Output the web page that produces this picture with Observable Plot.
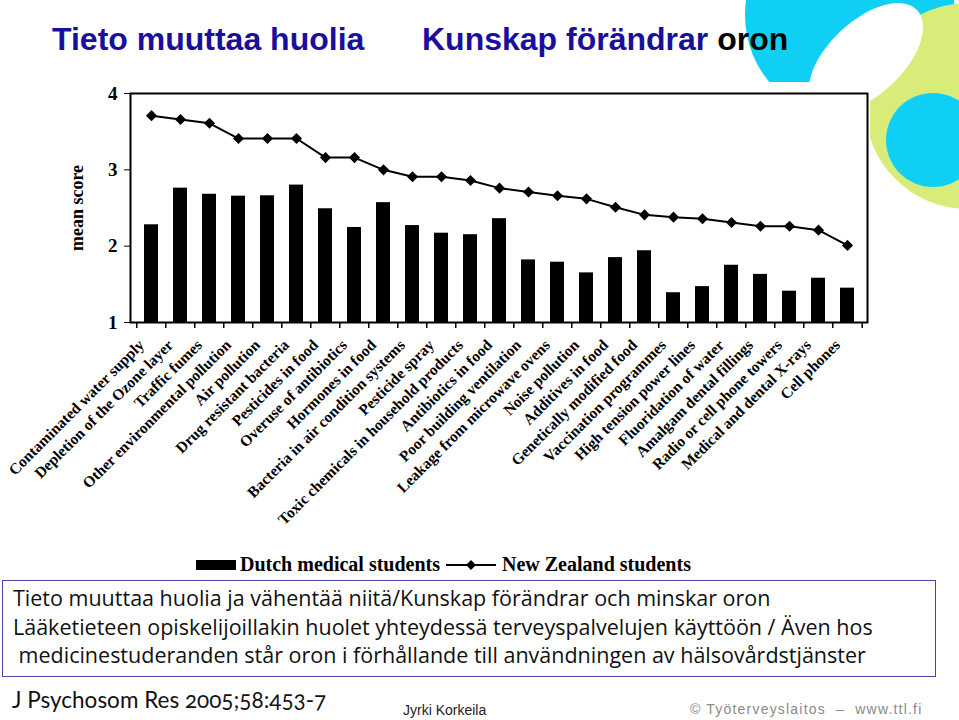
<!DOCTYPE html>
<html>
<head>
<meta charset="utf-8">
<script src="https://cdn.jsdelivr.net/npm/d3@7"></script>
<script src="https://cdn.jsdelivr.net/npm/@observablehq/plot@0.6"></script>
<style>
  html, body { margin: 0; padding: 0; background: #fff; }
  #page { position: relative; width: 959px; height: 720px; overflow: hidden; background: #fff; }
  #decor { position: absolute; left: 0; top: 0; }
  .title { position: absolute; top: 21px; font-family: "Liberation Sans", Arial, sans-serif; font-weight: bold; font-size: 32px; color: #1a0f9c; white-space: nowrap; }
  #chart { position: absolute; left: 0; top: 82px; }
  #chart svg { overflow: visible; }
  #legend { position: absolute; left: 196px; top: 553px; font-family: "Liberation Serif", serif; font-weight: bold; font-size: 20px; white-space: nowrap; display: flex; align-items: center; }
  #caption { position: absolute; left: 2px; top: 580px; width: 934px; height: 97px; border: 1.5px solid #4a46a8; box-sizing: border-box; font-family: "Open Sans", Lato, sans-serif; font-size: 21.5px; line-height: 28.5px; padding: 3px 0 0 10px; color: #111; white-space: nowrap; }
  #ref { position: absolute; left: 12px; top: 686px; font-family: Lato, sans-serif; font-size: 22.5px; color: #111; font-variant-numeric: oldstyle-nums; white-space: nowrap; }
  #author { position: absolute; left: 403px; top: 702px; font-family: "Liberation Sans", Arial, sans-serif; font-size: 14px; color: #222; }
  #copy { position: absolute; left: 690px; top: 701px; font-family: "Liberation Sans", Arial, sans-serif; font-size: 14px; color: #8a8a8a; letter-spacing: 1.2px; white-space: pre; }
</style>
</head>
<body>
<div id="page">
  <svg id="decor" width="959" height="720">
    <circle cx="850" cy="15" r="105" fill="#0fcff4"></circle>
    <circle cx="968" cy="106" r="103" fill="#d8ec7a"></circle>
    <ellipse cx="866" cy="58" rx="70" ry="37" transform="rotate(-43 866 58)" fill="#ffffff"></ellipse>
    <circle cx="933" cy="140" r="47" fill="#0fcff4"></circle>
  </svg>
  <div class="title" style="left:52px">Tieto muuttaa huolia</div>
  <div class="title" style="left:422px">Kunskap förändrar <span style="color:#000">oron</span></div>
  <div id="chart"></div>
  <div id="legend"></div>
  <div id="caption">
    <div>Tieto muuttaa huolia ja vähentää niitä/Kunskap förändrar och minskar oron</div>
    <div>Lääketieteen opiskelijoillakin huolet yhteydessä terveyspalvelujen käyttöön / Även hos</div>
    <div>&nbsp;medicinestuderanden står oron i förhållande till användningen av hälsovårdstjänster</div>
  </div>
  <div id="ref">J Psychosom Res 2005;58:453-7</div>
  <div id="author">Jyrki Korkeila</div>
  <div id="copy">© Työterveyslaitos  –  www.ttl.fi</div>
</div>
<script>
const categories = [
  "Contaminated water supply",
  "Depletion of the Ozone layer",
  "Traffic fumes",
  "Other environmental pollution",
  "Air pollution",
  "Drug resistant bacteria",
  "Pesticides in food",
  "Overuse of antibiotics",
  "Hormones in food",
  "Bacteria in air condition systems",
  "Pesticide spray",
  "Toxic chemicals in household products",
  "Antibiotics in food",
  "Poor building ventilation",
  "Leakage from microwave ovens",
  "Noise pollution",
  "Additives in food",
  "Genetically modified food",
  "Vaccination programmes",
  "High tension power lines",
  "Fluoridation of water",
  "Amalgam dental fillings",
  "Radio or cell phone towers",
  "Medical and dental X-rays",
  "Cell phones"
];
const dutchMedical = [2.28, 2.76, 2.68, 2.655, 2.66, 2.80, 2.49, 2.245, 2.57, 2.27, 2.17, 2.15, 2.36, 1.82, 1.79, 1.65, 1.85, 1.94, 1.39, 1.47, 1.75, 1.63, 1.41, 1.58, 1.45];
const newZealand = [3.71, 3.66, 3.61, 3.41, 3.41, 3.41, 3.16, 3.16, 3.00, 2.91, 2.91, 2.86, 2.76, 2.71, 2.66, 2.62, 2.51, 2.41, 2.38, 2.36, 2.31, 2.26, 2.26, 2.21, 2.01];
const yTicks = [1, 2, 3, 4];
const seriesNames = ["Dutch medical students", "New Zealand students"];
const yLabel = "mean score";

const table = categories.map((c, i) => ({cat: c, dutch: dutchMedical[i], nz: newZealand[i]}));

const W = 870, H = 463, mL = 130, mR = 3;
const step = (W - mL - mR) / categories.length;

const chart = Plot.plot({
  width: W,
  height: H,
  marginLeft: mL,
  marginRight: mR,
  marginTop: 11,
  marginBottom: 223,
  style: {background: "#fff", fontFamily: "'Liberation Serif', 'Times New Roman', serif", fontWeight: "bold", color: "#000"},
  x: {domain: categories, paddingInner: 0.525, paddingOuter: 0.2625},
  y: {domain: [1, 4]},
  marks: [
    Plot.barY(table, {x: "cat", y1: () => 1, y2: "dutch", fill: "#000"}),
    Plot.line(table, {x: "cat", y: "nz", stroke: "#000", strokeWidth: 2}),
    Plot.dot(table, {x: "cat", y: "nz", symbol: "diamond2", r: 5, fill: "#000", stroke: "none"}),
    Plot.ruleX(table, {x: "cat", dx: -step / 2, y1: () => 1, y2: () => 0.92, stroke: "#000", strokeWidth: 1.5}),
    Plot.ruleX(table.slice(-1), {x: "cat", dx: step / 2, y1: () => 1, y2: () => 0.92, stroke: "#000", strokeWidth: 1.5}),
    Plot.frame({stroke: "#000", strokeWidth: 2}),
    Plot.axisY({ticks: yTicks, tickFormat: d => String(d), tickSize: 6, tickPadding: 7, fontSize: 19, label: null}),
    Plot.axisX({tickSize: 0, tickRotate: -45, tickPadding: 14, dx: -10, dy: 6, fontSize: 15.5, label: null}),
    Plot.text([yLabel], {frameAnchor: "left", textAnchor: "middle", text: d => d, rotate: -90, dx: -53, fontSize: 18})
  ]
});
document.getElementById("chart").appendChild(chart);

// legend
const lg = document.getElementById("legend");
lg.innerHTML =
  `<svg width="42" height="14" style="margin-right:2px"><rect x="0" y="2" width="40" height="10" fill="#000"></rect></svg>` +
  `<span>${seriesNames[0]}</span>` +
  `<svg width="52" height="14" style="margin:0 4px 0 6px"><line x1="0" y1="7" x2="50" y2="7" stroke="#000" stroke-width="2"></line><path d="M25,2 L30,7 L25,12 L20,7 Z" fill="#000"></path></svg>` +
  `<span>${seriesNames[1]}</span>`;
</script>
</body>
</html>
